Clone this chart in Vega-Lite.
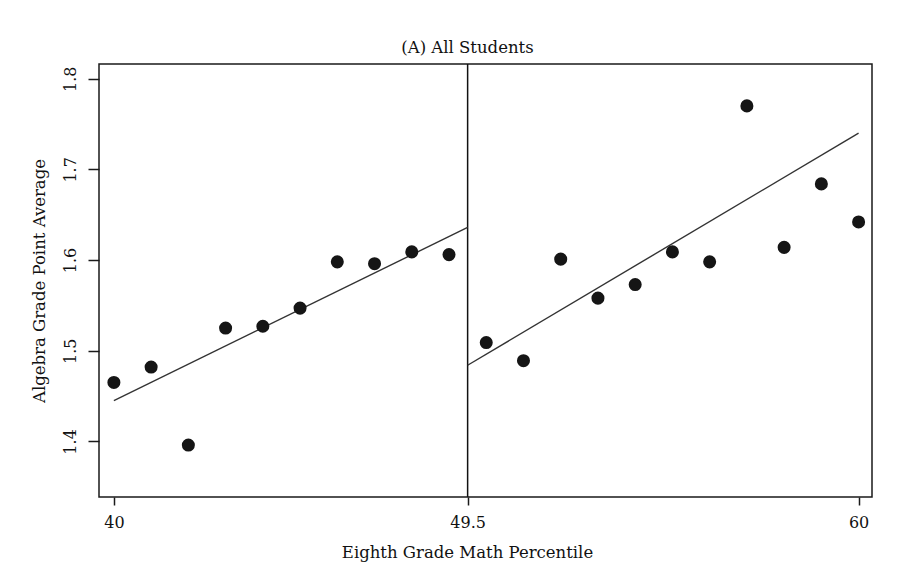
{
  "$schema": "https://vega.github.io/schema/vega-lite/v6.json",
  "autosize": "none",
  "width": 773,
  "height": 433,
  "padding": {"left": 99, "top": 64, "right": 37, "bottom": 79},
  "background": "white",
  "config": {
    "view": {"stroke": "#1a1a1a", "strokeWidth": 1.5},
    "font": "DejaVu Serif"
  },
  "title": {
    "text": "(A) All Students",
    "font": "DejaVu Serif",
    "fontSize": 16.5,
    "fontWeight": "normal",
    "color": "#111",
    "anchor": "middle",
    "dx": -18,
    "offset": 7
  },
  "datasets": {
    "points": [
      {"percentile": 40, "gpa": 1.465},
      {"percentile": 41, "gpa": 1.482},
      {"percentile": 42, "gpa": 1.396},
      {"percentile": 43, "gpa": 1.525},
      {"percentile": 44, "gpa": 1.527},
      {"percentile": 45, "gpa": 1.547},
      {"percentile": 46, "gpa": 1.598},
      {"percentile": 47, "gpa": 1.596},
      {"percentile": 48, "gpa": 1.609},
      {"percentile": 49, "gpa": 1.606},
      {"percentile": 50, "gpa": 1.509},
      {"percentile": 51, "gpa": 1.489},
      {"percentile": 52, "gpa": 1.601},
      {"percentile": 53, "gpa": 1.558},
      {"percentile": 54, "gpa": 1.573},
      {"percentile": 55, "gpa": 1.609},
      {"percentile": 56, "gpa": 1.598},
      {"percentile": 57, "gpa": 1.770},
      {"percentile": 58, "gpa": 1.614},
      {"percentile": 59, "gpa": 1.684},
      {"percentile": 60, "gpa": 1.642}
    ],
    "fits": [
      {"side": "left", "percentile": 40, "gpa": 1.445},
      {"side": "left", "percentile": 49.5, "gpa": 1.636},
      {"side": "right", "percentile": 49.5, "gpa": 1.484},
      {"side": "right", "percentile": 60, "gpa": 1.740}
    ],
    "cutoff": [{"percentile": 49.5}]
  },
  "layer": [
    {
      "data": {"name": "cutoff"},
      "mark": {"type": "rule", "color": "#111", "strokeWidth": 1.5},
      "encoding": {
        "x": {"field": "percentile", "type": "quantitative", "scale": {"domain": [39.6, 60.36], "nice": false, "zero": false}}
      }
    },
    {
      "data": {"name": "fits"},
      "mark": {"type": "line", "color": "#333", "strokeWidth": 1.4},
      "encoding": {
        "x": {"field": "percentile", "type": "quantitative"},
        "y": {"field": "gpa", "type": "quantitative"},
        "detail": {"field": "side"}
      }
    },
    {
      "data": {"name": "points"},
      "mark": {"type": "point", "filled": true, "shape": "circle", "size": 170, "color": "#151515", "opacity": 1},
      "encoding": {
        "x": {
          "field": "percentile",
          "type": "quantitative",
          "scale": {"domain": [39.6, 60.36], "nice": false, "zero": false},
          "axis": {
            "title": "Eighth Grade Math Percentile",
            "values": [40, 49.5, 60],
            "labelExpr": "'' + datum.value",
            "domain": false,
            "grid": false,
            "tickColor": "#1a1a1a",
            "tickWidth": 1.5,
            "tickSize": 8,
            "labelPadding": 9,
            "labelFont": "DejaVu Serif",
            "labelFontSize": 16,
            "labelColor": "#111",
            "titleFont": "DejaVu Serif",
            "titleFontSize": 16.5,
            "titleFontWeight": "normal",
            "titleColor": "#111",
            "titlePadding": 14,
            "titleX": 368
          }
        },
        "y": {
          "field": "gpa",
          "type": "quantitative",
          "scale": {"domain": [1.3387, 1.8162], "nice": false, "zero": false},
          "axis": {
            "title": "Algebra Grade Point Average",
            "values": [1.4, 1.5, 1.6, 1.7, 1.8],
            "labelExpr": "'' + datum.value",
            "labelAngle": -90,
            "labelAlign": "center",
            "labelBaseline": "bottom",
            "labelPadding": 10,
            "domain": false,
            "grid": false,
            "tickColor": "#1a1a1a",
            "tickWidth": 1.5,
            "tickSize": 11,
            "labelFont": "DejaVu Serif",
            "labelFontSize": 16,
            "labelColor": "#111",
            "titleFont": "DejaVu Serif",
            "titleFontSize": 16.5,
            "titleFontWeight": "normal",
            "titleColor": "#111",
            "titlePadding": 15
          }
        }
      }
    }
  ]
}
